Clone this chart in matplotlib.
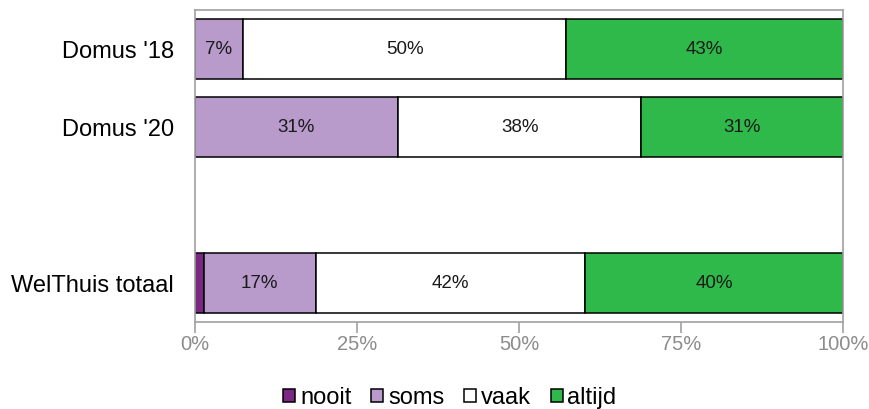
import matplotlib
matplotlib.use("Agg")
import matplotlib.pyplot as plt
from matplotlib.patches import Patch
import numpy as np

plt.rcParams['font.family'] = ['Liberation Sans', 'DejaVu Sans']

categories = ["Domus '18", "Domus '20", "WelThuis totaal"]
positions = [0, 1, 3]
series = ["nooit", "soms", "vaak", "altijd"]
nooit = [0.0, 0.0, 1.4]
soms = [7.4, 31.3, 17.2]
vaak = [49.9, 37.6, 41.6]
altijd = [42.7, 31.1, 39.8]
colors = ["#7B2882", "#B89BCB", "#FFFFFF", "#2EB94A"]
ticks = [0, 25, 50, 75, 100]
tick_labels = ["0%", "25%", "50%", "75%", "100%"]

fig = plt.figure(figsize=(8.69, 4.09), dpi=100)
ax = fig.add_axes([195/869, 1-322/409, 648/869, 312/409])

data = [nooit, soms, vaak, altijd]
left = np.zeros(len(categories))
for name, vals, col in zip(series, data, colors):
    vals = np.array(vals)
    ax.barh(positions, vals, left=left, height=0.77, color=col,
            edgecolor='black', linewidth=1.1, label=name)
    for p, l, v in zip(positions, left, vals):
        if v >= 5:
            ax.text(l + v/2, p, f"{v:.0f}%", ha='center', va='center',
                    fontsize=13.5, color='#1a1a1a')
    left += vals

ax.set_xlim(0, 100)
ax.set_ylim(3.5, -0.5)
ax.set_yticks(positions)
ax.set_yticklabels(categories, fontsize=17)
ax.tick_params(axis='y', length=0, pad=15)
ax.set_xticks(ticks)
ax.set_xticklabels(tick_labels, fontsize=14.5, color='#8c8c8c')
ax.tick_params(axis='x', length=8, width=1.2, color='#a0a0a0', pad=1)
for s in ax.spines.values():
    s.set_color('#a0a0a0')
    s.set_linewidth(1.2)

handles = [Patch(facecolor=c, edgecolor='black', linewidth=1.1, label=n)
           for n, c in zip(series, colors)]
fig.legend(handles=handles, loc='center', bbox_to_anchor=(450/869, 1-398/409),
           ncol=4, frameon=False, fontsize=17, handlelength=0.5, handleheight=0.5,
           handletextpad=0.2, columnspacing=0.85, borderaxespad=0)

fig.savefig("out.png", dpi=100)
